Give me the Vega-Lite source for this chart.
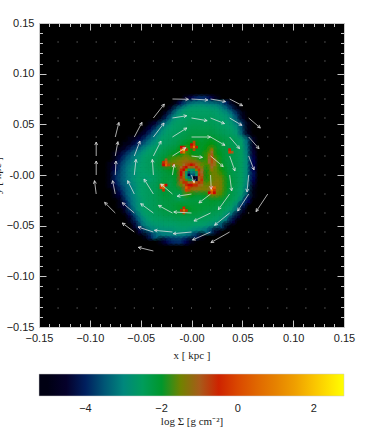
{"$schema":"https://vega.github.io/schema/vega-lite/v6.json","width":305,"height":304,"autosize":"none","padding":{"left":39,"top":23,"right":46,"bottom":113},"background":"white","view":{"fill":"#000000","stroke":"#c8c8c8"},
"config":{"legend":{"labelFont":"Liberation Sans","labelFontSize":11,"labelColor":"#222222","titleFont":"Liberation Serif","titleFontSize":11,"titleFontWeight":"normal","titleColor":"#222222"}},
"datasets":{
"dots":[
{"x":-0.13125,"y":0.13125},{"x":-0.1125,"y":0.13125},{"x":-0.09375,"y":0.13125},{"x":-0.075,"y":0.13125},{"x":-0.05625,"y":0.13125},{"x":-0.0375,"y":0.13125},{"x":-0.01875,"y":0.13125},{"x":0,"y":0.13125},{"x":0.01875,"y":0.13125},{"x":0.0375,"y":0.13125},{"x":0.05625,"y":0.13125},{"x":0.075,"y":0.13125},{"x":0.09375,"y":0.13125},{"x":0.1125,"y":0.13125},{"x":0.13125,"y":0.13125},
{"x":-0.13125,"y":0.1125},{"x":-0.1125,"y":0.1125},{"x":-0.09375,"y":0.1125},{"x":-0.075,"y":0.1125},{"x":-0.05625,"y":0.1125},{"x":-0.0375,"y":0.1125},{"x":-0.01875,"y":0.1125},{"x":0,"y":0.1125},{"x":0.01875,"y":0.1125},{"x":0.0375,"y":0.1125},{"x":0.05625,"y":0.1125},{"x":0.075,"y":0.1125},{"x":0.09375,"y":0.1125},{"x":0.1125,"y":0.1125},{"x":0.13125,"y":0.1125},
{"x":-0.13125,"y":0.09375},{"x":-0.1125,"y":0.09375},{"x":-0.09375,"y":0.09375},{"x":-0.075,"y":0.09375},{"x":-0.05625,"y":0.09375},{"x":-0.0375,"y":0.09375},{"x":-0.01875,"y":0.09375},{"x":0,"y":0.09375},{"x":0.01875,"y":0.09375},{"x":0.0375,"y":0.09375},{"x":0.05625,"y":0.09375},{"x":0.075,"y":0.09375},{"x":0.09375,"y":0.09375},{"x":0.1125,"y":0.09375},{"x":0.13125,"y":0.09375},
{"x":-0.13125,"y":0.075},{"x":-0.1125,"y":0.075},{"x":-0.09375,"y":0.075},{"x":-0.075,"y":0.075},{"x":-0.05625,"y":0.075},{"x":-0.0375,"y":0.075},{"x":0.05625,"y":0.075},{"x":0.075,"y":0.075},{"x":0.09375,"y":0.075},{"x":0.1125,"y":0.075},{"x":0.13125,"y":0.075},
{"x":-0.13125,"y":0.05625},{"x":-0.1125,"y":0.05625},{"x":-0.09375,"y":0.05625},{"x":-0.075,"y":0.05625},{"x":-0.05625,"y":0.05625},{"x":0.075,"y":0.05625},{"x":0.09375,"y":0.05625},{"x":0.1125,"y":0.05625},{"x":0.13125,"y":0.05625},
{"x":-0.13125,"y":0.0375},{"x":-0.1125,"y":0.0375},{"x":-0.09375,"y":0.0375},{"x":0.075,"y":0.0375},{"x":0.09375,"y":0.0375},{"x":0.1125,"y":0.0375},{"x":0.13125,"y":0.0375},
{"x":-0.13125,"y":0.01875},{"x":-0.1125,"y":0.01875},{"x":0.075,"y":0.01875},{"x":0.09375,"y":0.01875},{"x":0.1125,"y":0.01875},{"x":0.13125,"y":0.01875},
{"x":-0.13125,"y":0},{"x":-0.1125,"y":0},{"x":0.075,"y":0},{"x":0.09375,"y":0},{"x":0.1125,"y":0},{"x":0.13125,"y":0},
{"x":-0.13125,"y":-0.01875},{"x":-0.1125,"y":-0.01875},{"x":0.09375,"y":-0.01875},{"x":0.1125,"y":-0.01875},{"x":0.13125,"y":-0.01875},
{"x":-0.13125,"y":-0.0375},{"x":-0.1125,"y":-0.0375},{"x":-0.09375,"y":-0.0375},{"x":0.05625,"y":-0.0375},{"x":0.075,"y":-0.0375},{"x":0.09375,"y":-0.0375},{"x":0.1125,"y":-0.0375},{"x":0.13125,"y":-0.0375},
{"x":-0.13125,"y":-0.05625},{"x":-0.1125,"y":-0.05625},{"x":-0.09375,"y":-0.05625},{"x":-0.075,"y":-0.05625},{"x":0.05625,"y":-0.05625},{"x":0.075,"y":-0.05625},{"x":0.09375,"y":-0.05625},{"x":0.1125,"y":-0.05625},{"x":0.13125,"y":-0.05625},
{"x":-0.13125,"y":-0.075},{"x":-0.1125,"y":-0.075},{"x":-0.09375,"y":-0.075},{"x":-0.075,"y":-0.075},{"x":-0.05625,"y":-0.075},{"x":-0.01875,"y":-0.075},{"x":0,"y":-0.075},{"x":0.01875,"y":-0.075},{"x":0.0375,"y":-0.075},{"x":0.05625,"y":-0.075},{"x":0.075,"y":-0.075},{"x":0.09375,"y":-0.075},{"x":0.1125,"y":-0.075},{"x":0.13125,"y":-0.075},
{"x":-0.13125,"y":-0.09375},{"x":-0.1125,"y":-0.09375},{"x":-0.09375,"y":-0.09375},{"x":-0.075,"y":-0.09375},{"x":-0.05625,"y":-0.09375},{"x":-0.0375,"y":-0.09375},{"x":-0.01875,"y":-0.09375},{"x":0,"y":-0.09375},{"x":0.01875,"y":-0.09375},{"x":0.0375,"y":-0.09375},{"x":0.05625,"y":-0.09375},{"x":0.075,"y":-0.09375},{"x":0.09375,"y":-0.09375},{"x":0.1125,"y":-0.09375},{"x":0.13125,"y":-0.09375},
{"x":-0.13125,"y":-0.1125},{"x":-0.1125,"y":-0.1125},{"x":-0.09375,"y":-0.1125},{"x":-0.075,"y":-0.1125},{"x":-0.05625,"y":-0.1125},{"x":-0.0375,"y":-0.1125},{"x":-0.01875,"y":-0.1125},{"x":0,"y":-0.1125},{"x":0.01875,"y":-0.1125},{"x":0.0375,"y":-0.1125},{"x":0.05625,"y":-0.1125},{"x":0.075,"y":-0.1125},{"x":0.09375,"y":-0.1125},{"x":0.1125,"y":-0.1125},{"x":0.13125,"y":-0.1125},
{"x":-0.13125,"y":-0.13125},{"x":-0.1125,"y":-0.13125},{"x":-0.09375,"y":-0.13125},{"x":-0.075,"y":-0.13125},{"x":-0.05625,"y":-0.13125},{"x":-0.0375,"y":-0.13125},{"x":-0.01875,"y":-0.13125},{"x":0,"y":-0.13125},{"x":0.01875,"y":-0.13125},{"x":0.0375,"y":-0.13125},{"x":0.05625,"y":-0.13125},{"x":0.075,"y":-0.13125},{"x":0.09375,"y":-0.13125},{"x":0.1125,"y":-0.13125},{"x":0.13125,"y":-0.13125}
],
"arrows":[
{"x":-0.01875,"y":0.075,"x2":-0.003,"y2":0.0747,"a":91},{"x":0,"y":0.075,"x2":0.0161,"y2":0.074,"a":93},{"x":0.01875,"y":0.075,"x2":0.0335,"y2":0.0724,"a":100},{"x":0.0375,"y":0.075,"x2":0.0503,"y2":0.0684,"a":117},
{"x":-0.0375,"y":0.05625,"x2":-0.0267,"y2":0.07,"a":38},{"x":-0.01875,"y":0.05625,"x2":-0.0047,"y2":0.0585,"a":81},{"x":0,"y":0.05625,"x2":0.0154,"y2":0.0536,"a":100},{"x":0.01875,"y":0.05625,"x2":0.0325,"y2":0.0507,"a":112},{"x":0.0375,"y":0.05625,"x2":0.0496,"y2":0.049,"a":121},{"x":0.05625,"y":0.05625,"x2":0.0677,"y2":0.0464,"a":131},
{"x":-0.075,"y":0.0375,"x2":-0.0714,"y2":0.0519,"a":14},{"x":-0.05625,"y":0.0375,"x2":-0.0487,"y2":0.0519,"a":28},{"x":-0.0375,"y":0.0375,"x2":-0.027,"y2":0.0513,"a":37},{"x":-0.01875,"y":0.0375,"x2":-0.0046,"y2":0.0464,"a":58},{"x":0,"y":0.0375,"x2":0.0187,"y2":0.0375,"a":90},{"x":0.01875,"y":0.0375,"x2":0.0329,"y2":0.0293,"a":120},{"x":0.0375,"y":0.0375,"x2":0.0473,"y2":0.026,"a":139},{"x":0.05625,"y":0.0375,"x2":0.0664,"y2":0.026,"a":138},
{"x":-0.09375,"y":0.01875,"x2":-0.09375,"y2":0.0325,"a":0},{"x":-0.075,"y":0.01875,"x2":-0.0724,"y2":0.0329,"a":11},{"x":-0.05625,"y":0.01875,"x2":-0.0507,"y2":0.0335,"a":21},{"x":-0.0375,"y":0.01875,"x2":-0.03,"y2":0.0335,"a":27},{"x":-0.01875,"y":0.01875,"x2":-0.0056,"y2":0.027,"a":58},{"x":0,"y":0.01875,"x2":0.0108,"y2":0.0174,"a":97},{"x":0.01875,"y":0.01875,"x2":0.0312,"y2":0.0083,"a":130},{"x":0.0375,"y":0.01875,"x2":0.0427,"y2":0.004,"a":160},{"x":0.05625,"y":0.01875,"x2":0.0615,"y2":0.005,"a":159},
{"x":-0.09375,"y":0,"x2":-0.09375,"y2":0.0138,"a":0},{"x":-0.075,"y":0,"x2":-0.0743,"y2":0.0138,"a":3},{"x":-0.05625,"y":0,"x2":-0.0546,"y2":0.0154,"a":6},{"x":-0.0375,"y":0,"x2":-0.0385,"y2":0.0154,"a":-4},{"x":-0.01875,"y":0,"x2":-0.0171,"y2":0.0105,"a":9},{"x":0,"y":0,"x2":0.0025,"y2":-0.0075,"a":172},{"x":0.01875,"y":0,"x2":0.0194,"y2":-0.0141,"a":177},{"x":0.0375,"y":0,"x2":0.0395,"y2":-0.0157,"a":173},{"x":0.05625,"y":0,"x2":0.0546,"y2":-0.0167,"a":186},
{"x":-0.09375,"y":-0.01875,"x2":-0.0954,"y2":-0.0056,"a":-7},{"x":-0.075,"y":-0.01875,"x2":-0.0776,"y2":-0.0056,"a":-11},{"x":-0.05625,"y":-0.01875,"x2":-0.0628,"y2":-0.0056,"a":-27},{"x":-0.0375,"y":-0.01875,"x2":-0.0467,"y2":-0.004,"a":-32},{"x":-0.01875,"y":-0.01875,"x2":-0.0302,"y2":-0.0089,"a":-49},{"x":0,"y":-0.01875,"x2":-0.0141,"y2":-0.021,"a":-99},{"x":0.01875,"y":-0.01875,"x2":0.0073,"y2":-0.0276,"a":-128},{"x":0.0375,"y":-0.01875,"x2":0.0264,"y2":-0.0342,"a":-144},{"x":0.05625,"y":-0.01875,"x2":0.0454,"y2":-0.0355,"a":-147},{"x":0.075,"y":-0.01875,"x2":0.0635,"y2":-0.0361,"a":-147},
{"x":-0.075,"y":-0.0375,"x2":-0.0855,"y2":-0.027,"a":-45},{"x":-0.05625,"y":-0.0375,"x2":-0.0681,"y2":-0.0273,"a":-49},{"x":-0.0375,"y":-0.0375,"x2":-0.05,"y2":-0.0283,"a":-54},{"x":-0.01875,"y":-0.0375,"x2":-0.0325,"y2":-0.03,"a":-61},{"x":0,"y":-0.0375,"x2":-0.0174,"y2":-0.0365,"a":-87},{"x":0.01875,"y":-0.0375,"x2":0.0024,"y2":-0.0454,"a":-116},{"x":0.0375,"y":-0.0375,"x2":0.0227,"y2":-0.0496,"a":-129},
{"x":-0.05625,"y":-0.05625,"x2":-0.0681,"y2":-0.0474,"a":-53},{"x":-0.0375,"y":-0.05625,"x2":-0.0526,"y2":-0.0513,"a":-72},{"x":-0.01875,"y":-0.05625,"x2":-0.0365,"y2":-0.0546,"a":-85},{"x":0,"y":-0.05625,"x2":-0.018,"y2":-0.0579,"a":-95},{"x":0.01875,"y":-0.05625,"x2":0.001,"y2":-0.0641,"a":-114},{"x":0.0375,"y":-0.05625,"x2":0.0191,"y2":-0.0667,"a":-120},
{"x":-0.0375,"y":-0.075,"x2":-0.0523,"y2":-0.0714,"a":-76}
],
"fine":[
{"x":-0.01,"y":0.01,"v":-1.4},{"x":-0.0075,"y":0.01,"v":-1.1},{"x":-0.005,"y":0.01,"v":-0.9},{"x":-0.0025,"y":0.01,"v":-0.8},{"x":0,"y":0.01,"v":-0.7},{"x":0.0025,"y":0.01,"v":-0.8},{"x":0.005,"y":0.01,"v":-1},{"x":0.0075,"y":0.01,"v":-1.3},{"x":0.01,"y":0.01,"v":-1.6},
{"x":-0.01,"y":0.0075,"v":-1.1},{"x":-0.0075,"y":0.0075,"v":-0.8},{"x":-0.005,"y":0.0075,"v":-0.7},{"x":-0.0025,"y":0.0075,"v":-1},{"x":0,"y":0.0075,"v":-1.3},{"x":0.0025,"y":0.0075,"v":-1},{"x":0.005,"y":0.0075,"v":-0.8},{"x":0.0075,"y":0.0075,"v":-1},{"x":0.01,"y":0.0075,"v":-1.4},
{"x":-0.01,"y":0.005,"v":-0.8},{"x":-0.0075,"y":0.005,"v":-0.7},{"x":-0.005,"y":0.005,"v":-1.5},{"x":-0.0025,"y":0.005,"v":-2.6},{"x":0,"y":0.005,"v":-2.8},{"x":0.0025,"y":0.005,"v":-2.4},{"x":0.005,"y":0.005,"v":-1.3},{"x":0.0075,"y":0.005,"v":-0.8},{"x":0.01,"y":0.005,"v":-1.2},
{"x":-0.01,"y":0.0025,"v":-0.7},{"x":-0.0075,"y":0.0025,"v":-1},{"x":-0.005,"y":0.0025,"v":-2.6},{"x":-0.0025,"y":0.0025,"v":-3.5},{"x":0,"y":0.0025,"v":-3},{"x":0.0025,"y":0.0025,"v":-3.2},{"x":0.005,"y":0.0025,"v":-2.4},{"x":0.0075,"y":0.0025,"v":-0.9},{"x":0.01,"y":0.0025,"v":-1.1},
{"x":-0.01,"y":0,"v":-0.7},{"x":-0.0075,"y":0,"v":-1.2},{"x":-0.005,"y":0,"v":-2.8},{"x":-0.0025,"y":0,"v":-4.2},{"x":0,"y":0,"v":-3.4},{"x":0.0025,"y":0,"v":-3.5},{"x":0.005,"y":0,"v":-2.8},{"x":0.0075,"y":0,"v":-0.8},{"x":0.01,"y":0,"v":-1},
{"x":-0.01,"y":-0.0025,"v":-0.8},{"x":-0.0075,"y":-0.0025,"v":-1.3},{"x":-0.005,"y":-0.0025,"v":-2.7},{"x":-0.0025,"y":-0.0025,"v":-3.2},{"x":0,"y":-0.0025,"v":-3.6},{"x":0.0025,"y":-0.0025,"v":-4.8},{"x":0.005,"y":-0.0025,"v":-4.4},{"x":0.0075,"y":-0.0025,"v":-1},{"x":0.01,"y":-0.0025,"v":-0.9},
{"x":-0.01,"y":-0.005,"v":-1},{"x":-0.0075,"y":-0.005,"v":-0.9},{"x":-0.005,"y":-0.005,"v":-1.6},{"x":-0.0025,"y":-0.005,"v":-2.4},{"x":0,"y":-0.005,"v":-2.6},{"x":0.0025,"y":-0.005,"v":-4.9},{"x":0.005,"y":-0.005,"v":-4.4},{"x":0.0075,"y":-0.005,"v":-1.2},{"x":0.01,"y":-0.005,"v":-0.8},
{"x":-0.01,"y":-0.0075,"v":-1.3},{"x":-0.0075,"y":-0.0075,"v":-0.8},{"x":-0.005,"y":-0.0075,"v":-0.8},{"x":-0.0025,"y":-0.0075,"v":-1.2},{"x":0,"y":-0.0075,"v":-1},{"x":0.0025,"y":-0.0075,"v":0.8},{"x":0.005,"y":-0.0075,"v":-1},{"x":0.0075,"y":-0.0075,"v":-0.8},{"x":0.01,"y":-0.0075,"v":-0.9},
{"x":-0.01,"y":-0.01,"v":-1.6},{"x":-0.0075,"y":-0.01,"v":-1.2},{"x":-0.005,"y":-0.01,"v":-0.8},{"x":-0.0025,"y":-0.01,"v":-0.7},{"x":0,"y":-0.01,"v":-0.7},{"x":0.0025,"y":-0.01,"v":-0.8},{"x":0.005,"y":-0.01,"v":-0.8},{"x":0.0075,"y":-0.01,"v":-1},{"x":0.01,"y":-0.01,"v":-1.2},
{"x":-0.01,"y":0.0225,"v":-0.2},{"x":-0.0075,"y":0.0225,"v":0.6},{"x":-0.01,"y":0.025,"v":0.5},{"x":-0.0075,"y":0.025,"v":1.6},{"x":-0.005,"y":0.025,"v":-0.4},{"x":-0.0075,"y":0.0275,"v":-0.6},{"x":-0.01,"y":0.0275,"v":-0.7},
{"x":0.0025,"y":0.0325,"v":-0.9},{"x":0.0025,"y":0.03,"v":-0.2},{"x":0,"y":0.03,"v":-0.7},{"x":0.0025,"y":0.0275,"v":0.9},{"x":0.005,"y":0.0275,"v":-0.6},{"x":0,"y":0.0275,"v":-0.5},{"x":0.0025,"y":0.025,"v":-0.9},
{"x":-0.025,"y":0.0125,"v":0.2},{"x":-0.0275,"y":0.0125,"v":-0.8},{"x":-0.025,"y":0.01,"v":0.4},{"x":-0.0275,"y":0.01,"v":-0.7},{"x":-0.0225,"y":0.01,"v":-0.9},{"x":-0.025,"y":0.015,"v":-1},
{"x":-0.03,"y":-0.01,"v":0.3},{"x":-0.0275,"y":-0.01,"v":0.9},{"x":-0.03,"y":-0.0125,"v":-0.2},{"x":-0.0275,"y":-0.0125,"v":0.6},{"x":-0.0275,"y":-0.015,"v":-0.8},{"x":-0.025,"y":-0.01,"v":-0.7},
{"x":-0.0075,"y":-0.0325,"v":-0.5},{"x":-0.0075,"y":-0.035,"v":0.5},{"x":-0.01,"y":-0.035,"v":-0.8},{"x":-0.005,"y":-0.035,"v":-0.8},{"x":-0.0075,"y":-0.0375,"v":-0.9},
{"x":0.0375,"y":0.025,"v":-0.5},{"x":0.0375,"y":0.0225,"v":-0.2},{"x":0.04,"y":0.0225,"v":-1},
{"x":0.02,"y":-0.0125,"v":-0.3},{"x":0.0225,"y":-0.0125,"v":0.4},{"x":0.02,"y":-0.015,"v":0.8},{"x":0.0225,"y":-0.015,"v":-0.3},{"x":0.02,"y":-0.0175,"v":0.1},{"x":0.0175,"y":-0.0175,"v":-0.7},{"x":0.0225,"y":-0.0175,"v":-0.7},
{"x":-0.005,"y":-0.0125,"v":0.3},{"x":-0.0025,"y":-0.0125,"v":-0.4},{"x":-0.005,"y":-0.015,"v":-0.2},{"x":-0.0025,"y":-0.015,"v":-0.9},{"x":-0.0175,"y":0.01,"v":-0.9},
{"x":0.02,"y":0.025,"v":-1.3},{"x":0.02,"y":0.0225,"v":-1.1},{"x":0.02,"y":0.02,"v":-1},{"x":0.02,"y":0.0175,"v":-0.9},{"x":0.02,"y":0.015,"v":-0.9},{"x":0.02,"y":0.0125,"v":-0.9},{"x":0.02,"y":0.01,"v":-1},{"x":0.02,"y":0.0075,"v":-1.1},{"x":0.02,"y":0.005,"v":-1.3},
{"x":0.0175,"y":0.02,"v":-1.3},{"x":0.0175,"y":0.0175,"v":-1.2},{"x":0.0175,"y":0.015,"v":-1.1},{"x":0.0175,"y":0.0125,"v":-1.1},{"x":0.0225,"y":0.015,"v":-1.2},{"x":0.0225,"y":0.0125,"v":-1.2},{"x":0.0225,"y":0.01,"v":-1.2}
],
"coarse":[
{"x":-0.005,"y":0.075,"v":-4.6},{"x":0,"y":0.075,"v":-4.3},{"x":0.005,"y":0.075,"v":-4},{"x":0.01,"y":0.075,"v":-3.9},{"x":0.015,"y":0.075,"v":-4},{"x":0.02,"y":0.075,"v":-4.3},{"x":0.025,"y":0.075,"v":-4.7},
{"x":-0.015,"y":0.07,"v":-4.7},{"x":-0.01,"y":0.07,"v":-4.1},{"x":-0.005,"y":0.07,"v":-3.4},{"x":0,"y":0.07,"v":-3.1},{"x":0.005,"y":0.07,"v":-3},{"x":0.01,"y":0.07,"v":-3},{"x":0.015,"y":0.07,"v":-3.1},{"x":0.02,"y":0.07,"v":-3.1},{"x":0.025,"y":0.07,"v":-3.2},{"x":0.03,"y":0.07,"v":-3.5},{"x":0.035,"y":0.07,"v":-4},{"x":0.04,"y":0.07,"v":-4.7},
{"x":-0.02,"y":0.065,"v":-4.6},{"x":-0.015,"y":0.065,"v":-3.6},{"x":-0.01,"y":0.065,"v":-3},{"x":-0.005,"y":0.065,"v":-2.8},{"x":0,"y":0.065,"v":-2.7},{"x":0.005,"y":0.065,"v":-2.7},{"x":0.01,"y":0.065,"v":-2.7},{"x":0.015,"y":0.065,"v":-2.7},{"x":0.02,"y":0.065,"v":-2.8},{"x":0.025,"y":0.065,"v":-2.8},{"x":0.03,"y":0.065,"v":-3},{"x":0.035,"y":0.065,"v":-3.3},{"x":0.04,"y":0.065,"v":-3.9},{"x":0.045,"y":0.065,"v":-4.7},
{"x":-0.025,"y":0.06,"v":-4.6},{"x":-0.02,"y":0.06,"v":-3.7},{"x":-0.015,"y":0.06,"v":-3},{"x":-0.01,"y":0.06,"v":-2.8},{"x":-0.005,"y":0.06,"v":-2.6},{"x":0,"y":0.06,"v":-2.6},{"x":0.005,"y":0.06,"v":-2.6},{"x":0.01,"y":0.06,"v":-2.6},{"x":0.015,"y":0.06,"v":-2.6},{"x":0.02,"y":0.06,"v":-2.6},{"x":0.025,"y":0.06,"v":-2.7},{"x":0.03,"y":0.06,"v":-2.8},{"x":0.035,"y":0.06,"v":-2.9},{"x":0.04,"y":0.06,"v":-3.2},{"x":0.045,"y":0.06,"v":-3.9},{"x":0.05,"y":0.06,"v":-4.8},
{"x":-0.03,"y":0.055,"v":-4.7},{"x":-0.025,"y":0.055,"v":-3.9},{"x":-0.02,"y":0.055,"v":-3.1},{"x":-0.015,"y":0.055,"v":-2.8},{"x":-0.01,"y":0.055,"v":-2.7},{"x":-0.005,"y":0.055,"v":-2.6},{"x":0,"y":0.055,"v":-2.5},{"x":0.005,"y":0.055,"v":-2.5},{"x":0.01,"y":0.055,"v":-2.5},{"x":0.015,"y":0.055,"v":-2.5},{"x":0.02,"y":0.055,"v":-2.5},{"x":0.025,"y":0.055,"v":-2.6},{"x":0.03,"y":0.055,"v":-2.7},{"x":0.035,"y":0.055,"v":-2.8},{"x":0.04,"y":0.055,"v":-3},{"x":0.045,"y":0.055,"v":-3.6},{"x":0.05,"y":0.055,"v":-4.6},
{"x":-0.04,"y":0.05,"v":-4.8},{"x":-0.035,"y":0.05,"v":-4.4},{"x":-0.03,"y":0.05,"v":-3.6},{"x":-0.025,"y":0.05,"v":-3.1},{"x":-0.02,"y":0.05,"v":-2.8},{"x":-0.015,"y":0.05,"v":-2.6},{"x":-0.01,"y":0.05,"v":-2.6},{"x":-0.005,"y":0.05,"v":-2.5},{"x":0,"y":0.05,"v":-2.4},{"x":0.005,"y":0.05,"v":-2.4},{"x":0.01,"y":0.05,"v":-2.4},{"x":0.015,"y":0.05,"v":-2.4},{"x":0.02,"y":0.05,"v":-2.4},{"x":0.025,"y":0.05,"v":-2.5},{"x":0.03,"y":0.05,"v":-2.6},{"x":0.035,"y":0.05,"v":-2.7},{"x":0.04,"y":0.05,"v":-2.8},{"x":0.045,"y":0.05,"v":-3.1},{"x":0.05,"y":0.05,"v":-3.8},{"x":0.055,"y":0.05,"v":-4.8},
{"x":-0.045,"y":0.045,"v":-4.8},{"x":-0.04,"y":0.045,"v":-4.2},{"x":-0.035,"y":0.045,"v":-3.6},{"x":-0.03,"y":0.045,"v":-3.1},{"x":-0.025,"y":0.045,"v":-2.8},{"x":-0.02,"y":0.045,"v":-2.7},{"x":-0.015,"y":0.045,"v":-2.6},{"x":-0.01,"y":0.045,"v":-2.5},{"x":-0.005,"y":0.045,"v":-2.4},{"x":0,"y":0.045,"v":-2.3},{"x":0.005,"y":0.045,"v":-2.3},{"x":0.01,"y":0.045,"v":-2.3},{"x":0.015,"y":0.045,"v":-2.3},{"x":0.02,"y":0.045,"v":-2.3},{"x":0.025,"y":0.045,"v":-2.4},{"x":0.03,"y":0.045,"v":-2.5},{"x":0.035,"y":0.045,"v":-2.6},{"x":0.04,"y":0.045,"v":-2.7},{"x":0.045,"y":0.045,"v":-2.9},{"x":0.05,"y":0.045,"v":-3.6},{"x":0.055,"y":0.045,"v":-4.7},
{"x":-0.05,"y":0.04,"v":-4.8},{"x":-0.045,"y":0.04,"v":-4.3},{"x":-0.04,"y":0.04,"v":-3.7},{"x":-0.035,"y":0.04,"v":-3.2},{"x":-0.03,"y":0.04,"v":-2.9},{"x":-0.025,"y":0.04,"v":-2.7},{"x":-0.02,"y":0.04,"v":-2.6},{"x":-0.015,"y":0.04,"v":-2.5},{"x":-0.01,"y":0.04,"v":-2.4},{"x":-0.005,"y":0.04,"v":-2.3},{"x":0,"y":0.04,"v":-2.2},{"x":0.005,"y":0.04,"v":-2.2},{"x":0.01,"y":0.04,"v":-2.2},{"x":0.015,"y":0.04,"v":-2.2},{"x":0.02,"y":0.04,"v":-2.2},{"x":0.025,"y":0.04,"v":-2.3},{"x":0.03,"y":0.04,"v":-2.4},{"x":0.035,"y":0.04,"v":-2.5},{"x":0.04,"y":0.04,"v":-2.6},{"x":0.045,"y":0.04,"v":-2.8},{"x":0.05,"y":0.04,"v":-3.5},{"x":0.055,"y":0.04,"v":-4.6},
{"x":-0.06,"y":0.035,"v":-4.9},{"x":-0.055,"y":0.035,"v":-4.6},{"x":-0.05,"y":0.035,"v":-4.2},{"x":-0.045,"y":0.035,"v":-3.7},{"x":-0.04,"y":0.035,"v":-3.3},{"x":-0.035,"y":0.035,"v":-3},{"x":-0.03,"y":0.035,"v":-2.7},{"x":-0.025,"y":0.035,"v":-2.6},{"x":-0.02,"y":0.035,"v":-2.5},{"x":-0.015,"y":0.035,"v":-2.4},{"x":-0.01,"y":0.035,"v":-2.3},{"x":-0.005,"y":0.035,"v":-2.2},{"x":0,"y":0.035,"v":-2.1},{"x":0.005,"y":0.035,"v":-2.1},{"x":0.01,"y":0.035,"v":-2.1},{"x":0.015,"y":0.035,"v":-2},{"x":0.02,"y":0.035,"v":-2},{"x":0.025,"y":0.035,"v":-2.1},{"x":0.03,"y":0.035,"v":-2.2},{"x":0.035,"y":0.035,"v":-2.3},{"x":0.04,"y":0.035,"v":-2.4},{"x":0.045,"y":0.035,"v":-2.5},{"x":0.05,"y":0.035,"v":-2.8},{"x":0.055,"y":0.035,"v":-3.4},{"x":0.06,"y":0.035,"v":-4.6},
{"x":-0.065,"y":0.03,"v":-4.9},{"x":-0.06,"y":0.03,"v":-4.6},{"x":-0.055,"y":0.03,"v":-4.1},{"x":-0.05,"y":0.03,"v":-3.7},{"x":-0.045,"y":0.03,"v":-3.3},{"x":-0.04,"y":0.03,"v":-3},{"x":-0.035,"y":0.03,"v":-2.8},{"x":-0.03,"y":0.03,"v":-2.6},{"x":-0.025,"y":0.03,"v":-2.5},{"x":-0.02,"y":0.03,"v":-2.4},{"x":-0.015,"y":0.03,"v":-2.3},{"x":-0.01,"y":0.03,"v":-2.1},{"x":-0.005,"y":0.03,"v":-1.9},{"x":0,"y":0.03,"v":-1.8},{"x":0.005,"y":0.03,"v":-1.8},{"x":0.01,"y":0.03,"v":-2},{"x":0.015,"y":0.03,"v":-1.9},{"x":0.02,"y":0.03,"v":-1.8},{"x":0.025,"y":0.03,"v":-2},{"x":0.03,"y":0.03,"v":-2.2},{"x":0.035,"y":0.03,"v":-2.3},{"x":0.04,"y":0.03,"v":-2.4},{"x":0.045,"y":0.03,"v":-2.5},{"x":0.05,"y":0.03,"v":-2.7},{"x":0.055,"y":0.03,"v":-3.3},{"x":0.06,"y":0.03,"v":-4.6},
{"x":-0.07,"y":0.025,"v":-4.9},{"x":-0.065,"y":0.025,"v":-4.5},{"x":-0.06,"y":0.025,"v":-4},{"x":-0.055,"y":0.025,"v":-3.6},{"x":-0.05,"y":0.025,"v":-3.2},{"x":-0.045,"y":0.025,"v":-2.9},{"x":-0.04,"y":0.025,"v":-2.7},{"x":-0.035,"y":0.025,"v":-2.6},{"x":-0.03,"y":0.025,"v":-2.5},{"x":-0.025,"y":0.025,"v":-2.3},{"x":-0.02,"y":0.025,"v":-2.2},{"x":-0.015,"y":0.025,"v":-2.1},{"x":-0.01,"y":0.025,"v":-1.8},{"x":-0.005,"y":0.025,"v":-1.6},{"x":0,"y":0.025,"v":-1.8},{"x":0.005,"y":0.025,"v":-1.9},{"x":0.01,"y":0.025,"v":-2},{"x":0.015,"y":0.025,"v":-1.8},{"x":0.02,"y":0.025,"v":-1.5},{"x":0.025,"y":0.025,"v":-1.9},{"x":0.03,"y":0.025,"v":-2.1},{"x":0.035,"y":0.025,"v":-2.2},{"x":0.04,"y":0.025,"v":-2.3},{"x":0.045,"y":0.025,"v":-2.4},{"x":0.05,"y":0.025,"v":-2.6},{"x":0.055,"y":0.025,"v":-3.2},{"x":0.06,"y":0.025,"v":-4.5},
{"x":-0.075,"y":0.02,"v":-4.9},{"x":-0.07,"y":0.02,"v":-4.4},{"x":-0.065,"y":0.02,"v":-3.9},{"x":-0.06,"y":0.02,"v":-3.5},{"x":-0.055,"y":0.02,"v":-3.1},{"x":-0.05,"y":0.02,"v":-2.9},{"x":-0.045,"y":0.02,"v":-2.7},{"x":-0.04,"y":0.02,"v":-2.6},{"x":-0.035,"y":0.02,"v":-2.5},{"x":-0.03,"y":0.02,"v":-2.3},{"x":-0.025,"y":0.02,"v":-2.2},{"x":-0.02,"y":0.02,"v":-2},{"x":-0.015,"y":0.02,"v":-1.9},{"x":-0.01,"y":0.02,"v":-1.8},{"x":-0.005,"y":0.02,"v":-1.6},{"x":0,"y":0.02,"v":-1.8},{"x":0.005,"y":0.02,"v":-2},{"x":0.01,"y":0.02,"v":-1.9},{"x":0.015,"y":0.02,"v":-1.7},{"x":0.02,"y":0.02,"v":-1.4},{"x":0.025,"y":0.02,"v":-1.8},{"x":0.03,"y":0.02,"v":-2},{"x":0.035,"y":0.02,"v":-2.2},{"x":0.04,"y":0.02,"v":-2.3},{"x":0.045,"y":0.02,"v":-2.4},{"x":0.05,"y":0.02,"v":-2.6},{"x":0.055,"y":0.02,"v":-3.1},{"x":0.06,"y":0.02,"v":-4.4},
{"x":-0.075,"y":0.015,"v":-4.7},{"x":-0.07,"y":0.015,"v":-4.1},{"x":-0.065,"y":0.015,"v":-3.6},{"x":-0.06,"y":0.015,"v":-3.3},{"x":-0.055,"y":0.015,"v":-3},{"x":-0.05,"y":0.015,"v":-2.8},{"x":-0.045,"y":0.015,"v":-2.6},{"x":-0.04,"y":0.015,"v":-2.5},{"x":-0.035,"y":0.015,"v":-2.4},{"x":-0.03,"y":0.015,"v":-2.2},{"x":-0.025,"y":0.015,"v":-2},{"x":-0.02,"y":0.015,"v":-1.7},{"x":-0.015,"y":0.015,"v":-1.6},{"x":-0.01,"y":0.015,"v":-1.4},{"x":-0.005,"y":0.015,"v":-1.3},{"x":0,"y":0.015,"v":-1.5},{"x":0.005,"y":0.015,"v":-1.6},{"x":0.01,"y":0.015,"v":-1.9},{"x":0.015,"y":0.015,"v":-1.7},{"x":0.02,"y":0.015,"v":-1.3},{"x":0.025,"y":0.015,"v":-1.7},{"x":0.03,"y":0.015,"v":-2},{"x":0.035,"y":0.015,"v":-2.2},{"x":0.04,"y":0.015,"v":-2.3},{"x":0.045,"y":0.015,"v":-2.4},{"x":0.05,"y":0.015,"v":-2.6},{"x":0.055,"y":0.015,"v":-3},{"x":0.06,"y":0.015,"v":-4.2},
{"x":-0.08,"y":0.01,"v":-4.9},{"x":-0.075,"y":0.01,"v":-4.4},{"x":-0.07,"y":0.01,"v":-3.8},{"x":-0.065,"y":0.01,"v":-3.4},{"x":-0.06,"y":0.01,"v":-3.1},{"x":-0.055,"y":0.01,"v":-2.9},{"x":-0.05,"y":0.01,"v":-2.7},{"x":-0.045,"y":0.01,"v":-2.6},{"x":-0.04,"y":0.01,"v":-2.5},{"x":-0.035,"y":0.01,"v":-2.3},{"x":-0.03,"y":0.01,"v":-2.1},{"x":-0.025,"y":0.01,"v":-0.9},{"x":-0.02,"y":0.01,"v":-1.5},{"x":-0.015,"y":0.01,"v":-1.4},{"x":-0.01,"y":0.01,"v":-1.3},{"x":-0.005,"y":0.01,"v":-1},{"x":0,"y":0.01,"v":-0.9},{"x":0.005,"y":0.01,"v":-1},{"x":0.01,"y":0.01,"v":-1.4},{"x":0.015,"y":0.01,"v":-1.7},{"x":0.02,"y":0.01,"v":-1.3},{"x":0.025,"y":0.01,"v":-1.6},{"x":0.03,"y":0.01,"v":-1.9},{"x":0.035,"y":0.01,"v":-2.2},{"x":0.04,"y":0.01,"v":-2.3},{"x":0.045,"y":0.01,"v":-2.4},{"x":0.05,"y":0.01,"v":-2.6},{"x":0.055,"y":0.01,"v":-3},{"x":0.06,"y":0.01,"v":-4.2},
{"x":-0.08,"y":0.005,"v":-4.8},{"x":-0.075,"y":0.005,"v":-4.2},{"x":-0.07,"y":0.005,"v":-3.7},{"x":-0.065,"y":0.005,"v":-3.3},{"x":-0.06,"y":0.005,"v":-3},{"x":-0.055,"y":0.005,"v":-2.8},{"x":-0.05,"y":0.005,"v":-2.7},{"x":-0.045,"y":0.005,"v":-2.6},{"x":-0.04,"y":0.005,"v":-2.5},{"x":-0.035,"y":0.005,"v":-2.4},{"x":-0.03,"y":0.005,"v":-2.2},{"x":-0.025,"y":0.005,"v":-2},{"x":-0.02,"y":0.005,"v":-1.9},{"x":-0.015,"y":0.005,"v":-1.8},{"x":-0.01,"y":0.005,"v":-1},{"x":-0.005,"y":0.005,"v":-0.8},{"x":0,"y":0.005,"v":-1.5},{"x":0.005,"y":0.005,"v":-0.8},{"x":0.01,"y":0.005,"v":-1.1},{"x":0.015,"y":0.005,"v":-1.8},{"x":0.02,"y":0.005,"v":-1.4},{"x":0.025,"y":0.005,"v":-1.6},{"x":0.03,"y":0.005,"v":-1.8},{"x":0.035,"y":0.005,"v":-2.1},{"x":0.04,"y":0.005,"v":-2.3},{"x":0.045,"y":0.005,"v":-2.4},{"x":0.05,"y":0.005,"v":-2.6},{"x":0.055,"y":0.005,"v":-3},{"x":0.06,"y":0.005,"v":-4.2},
{"x":-0.08,"y":0,"v":-4.7},{"x":-0.075,"y":0,"v":-4},{"x":-0.07,"y":0,"v":-3.6},{"x":-0.065,"y":0,"v":-3.3},{"x":-0.06,"y":0,"v":-3},{"x":-0.055,"y":0,"v":-2.9},{"x":-0.05,"y":0,"v":-2.7},{"x":-0.045,"y":0,"v":-2.7},{"x":-0.04,"y":0,"v":-2.6},{"x":-0.035,"y":0,"v":-2.5},{"x":-0.03,"y":0,"v":-2.3},{"x":-0.025,"y":0,"v":-2.2},{"x":-0.02,"y":0,"v":-2.1},{"x":-0.015,"y":0,"v":-1.9},{"x":-0.01,"y":0,"v":-0.9},{"x":-0.005,"y":0,"v":-1.2},{"x":0,"y":0,"v":-3.8},{"x":0.005,"y":0,"v":-1.2},{"x":0.01,"y":0,"v":-0.9},{"x":0.015,"y":0,"v":-1.8},{"x":0.02,"y":0,"v":-1.5},{"x":0.025,"y":0,"v":-1.5},{"x":0.03,"y":0,"v":-1.7},{"x":0.035,"y":0,"v":-2},{"x":0.04,"y":0,"v":-2.3},{"x":0.045,"y":0,"v":-2.4},{"x":0.05,"y":0,"v":-2.6},{"x":0.055,"y":0,"v":-3},{"x":0.06,"y":0,"v":-4.1},
{"x":-0.08,"y":-0.005,"v":-4.7},{"x":-0.075,"y":-0.005,"v":-4},{"x":-0.07,"y":-0.005,"v":-3.6},{"x":-0.065,"y":-0.005,"v":-3.3},{"x":-0.06,"y":-0.005,"v":-3},{"x":-0.055,"y":-0.005,"v":-2.8},{"x":-0.05,"y":-0.005,"v":-2.7},{"x":-0.045,"y":-0.005,"v":-2.8},{"x":-0.04,"y":-0.005,"v":-2.7},{"x":-0.035,"y":-0.005,"v":-2.5},{"x":-0.03,"y":-0.005,"v":-2.3},{"x":-0.025,"y":-0.005,"v":-2.1},{"x":-0.02,"y":-0.005,"v":-2.2},{"x":-0.015,"y":-0.005,"v":-2},{"x":-0.01,"y":-0.005,"v":-0.9},{"x":-0.005,"y":-0.005,"v":-1},{"x":0,"y":-0.005,"v":-3.5},{"x":0.005,"y":-0.005,"v":-1},{"x":0.01,"y":-0.005,"v":-1},{"x":0.015,"y":-0.005,"v":-1.8},{"x":0.02,"y":-0.005,"v":-1.6},{"x":0.025,"y":-0.005,"v":-1.4},{"x":0.03,"y":-0.005,"v":-1.5},{"x":0.035,"y":-0.005,"v":-1.9},{"x":0.04,"y":-0.005,"v":-2.2},{"x":0.045,"y":-0.005,"v":-2.4},{"x":0.05,"y":-0.005,"v":-2.6},{"x":0.055,"y":-0.005,"v":-3},{"x":0.06,"y":-0.005,"v":-4.2},
{"x":-0.08,"y":-0.01,"v":-4.9},{"x":-0.075,"y":-0.01,"v":-4.2},{"x":-0.07,"y":-0.01,"v":-3.7},{"x":-0.065,"y":-0.01,"v":-3.4},{"x":-0.06,"y":-0.01,"v":-3.1},{"x":-0.055,"y":-0.01,"v":-2.9},{"x":-0.05,"y":-0.01,"v":-2.7},{"x":-0.045,"y":-0.01,"v":-2.6},{"x":-0.04,"y":-0.01,"v":-2.5},{"x":-0.035,"y":-0.01,"v":-2.4},{"x":-0.03,"y":-0.01,"v":-2.2},{"x":-0.025,"y":-0.01,"v":-2.2},{"x":-0.02,"y":-0.01,"v":-2.3},{"x":-0.015,"y":-0.01,"v":-2},{"x":-0.01,"y":-0.01,"v":-1.2},{"x":-0.005,"y":-0.01,"v":-0.8},{"x":0,"y":-0.01,"v":-0.8},{"x":0.005,"y":-0.01,"v":-0.9},{"x":0.01,"y":-0.01,"v":-1.3},{"x":0.015,"y":-0.01,"v":-1.6},{"x":0.02,"y":-0.01,"v":-1.4},{"x":0.025,"y":-0.01,"v":-1.3},{"x":0.03,"y":-0.01,"v":-1.5},{"x":0.035,"y":-0.01,"v":-1.9},{"x":0.04,"y":-0.01,"v":-2.2},{"x":0.045,"y":-0.01,"v":-2.4},{"x":0.05,"y":-0.01,"v":-2.6},{"x":0.055,"y":-0.01,"v":-3.1},{"x":0.06,"y":-0.01,"v":-4.5},
{"x":-0.075,"y":-0.015,"v":-4.6},{"x":-0.07,"y":-0.015,"v":-4},{"x":-0.065,"y":-0.015,"v":-3.5},{"x":-0.06,"y":-0.015,"v":-3.2},{"x":-0.055,"y":-0.015,"v":-2.9},{"x":-0.05,"y":-0.015,"v":-2.7},{"x":-0.045,"y":-0.015,"v":-2.6},{"x":-0.04,"y":-0.015,"v":-2.5},{"x":-0.035,"y":-0.015,"v":-2.4},{"x":-0.03,"y":-0.015,"v":-2.2},{"x":-0.025,"y":-0.015,"v":-2.1},{"x":-0.02,"y":-0.015,"v":-2.2},{"x":-0.015,"y":-0.015,"v":-2.2},{"x":-0.01,"y":-0.015,"v":-2},{"x":-0.005,"y":-0.015,"v":-1.2},{"x":0,"y":-0.015,"v":-1.3},{"x":0.005,"y":-0.015,"v":-1.2},{"x":0.01,"y":-0.015,"v":-1.4},{"x":0.015,"y":-0.015,"v":-1.4},{"x":0.02,"y":-0.015,"v":-1.1},{"x":0.025,"y":-0.015,"v":-1.3},{"x":0.03,"y":-0.015,"v":-1.5},{"x":0.035,"y":-0.015,"v":-1.9},{"x":0.04,"y":-0.015,"v":-2.3},{"x":0.045,"y":-0.015,"v":-2.5},{"x":0.05,"y":-0.015,"v":-2.7},{"x":0.055,"y":-0.015,"v":-3.3},{"x":0.06,"y":-0.015,"v":-4.7},
{"x":-0.075,"y":-0.02,"v":-4.8},{"x":-0.07,"y":-0.02,"v":-4.2},{"x":-0.065,"y":-0.02,"v":-3.6},{"x":-0.06,"y":-0.02,"v":-3.2},{"x":-0.055,"y":-0.02,"v":-2.9},{"x":-0.05,"y":-0.02,"v":-2.7},{"x":-0.045,"y":-0.02,"v":-2.6},{"x":-0.04,"y":-0.02,"v":-2.5},{"x":-0.035,"y":-0.02,"v":-2.4},{"x":-0.03,"y":-0.02,"v":-2.2},{"x":-0.025,"y":-0.02,"v":-2.1},{"x":-0.02,"y":-0.02,"v":-2.2},{"x":-0.015,"y":-0.02,"v":-2.3},{"x":-0.01,"y":-0.02,"v":-2.4},{"x":-0.005,"y":-0.02,"v":-1.7},{"x":0,"y":-0.02,"v":-1.8},{"x":0.005,"y":-0.02,"v":-2},{"x":0.01,"y":-0.02,"v":-2},{"x":0.015,"y":-0.02,"v":-1.9},{"x":0.02,"y":-0.02,"v":-1.3},{"x":0.025,"y":-0.02,"v":-1.4},{"x":0.03,"y":-0.02,"v":-1.7},{"x":0.035,"y":-0.02,"v":-2.1},{"x":0.04,"y":-0.02,"v":-2.3},{"x":0.045,"y":-0.02,"v":-2.5},{"x":0.05,"y":-0.02,"v":-2.8},{"x":0.055,"y":-0.02,"v":-3.6},{"x":0.06,"y":-0.02,"v":-4.8},
{"x":-0.07,"y":-0.025,"v":-4.7},{"x":-0.065,"y":-0.025,"v":-3.9},{"x":-0.06,"y":-0.025,"v":-3.3},{"x":-0.055,"y":-0.025,"v":-3},{"x":-0.05,"y":-0.025,"v":-2.8},{"x":-0.045,"y":-0.025,"v":-2.6},{"x":-0.04,"y":-0.025,"v":-2.5},{"x":-0.035,"y":-0.025,"v":-2.4},{"x":-0.03,"y":-0.025,"v":-2.3},{"x":-0.025,"y":-0.025,"v":-2.2},{"x":-0.02,"y":-0.025,"v":-2.2},{"x":-0.015,"y":-0.025,"v":-2.3},{"x":-0.01,"y":-0.025,"v":-2.4},{"x":-0.005,"y":-0.025,"v":-2.3},{"x":0,"y":-0.025,"v":-2.2},{"x":0.005,"y":-0.025,"v":-2.2},{"x":0.01,"y":-0.025,"v":-2.2},{"x":0.015,"y":-0.025,"v":-2.1},{"x":0.02,"y":-0.025,"v":-2},{"x":0.025,"y":-0.025,"v":-2},{"x":0.03,"y":-0.025,"v":-2.1},{"x":0.035,"y":-0.025,"v":-2.2},{"x":0.04,"y":-0.025,"v":-2.4},{"x":0.045,"y":-0.025,"v":-2.6},{"x":0.05,"y":-0.025,"v":-3.1},{"x":0.055,"y":-0.025,"v":-4.2},
{"x":-0.07,"y":-0.03,"v":-4.9},{"x":-0.065,"y":-0.03,"v":-4.2},{"x":-0.06,"y":-0.03,"v":-3.4},{"x":-0.055,"y":-0.03,"v":-3},{"x":-0.05,"y":-0.03,"v":-2.8},{"x":-0.045,"y":-0.03,"v":-2.6},{"x":-0.04,"y":-0.03,"v":-2.5},{"x":-0.035,"y":-0.03,"v":-2.4},{"x":-0.03,"y":-0.03,"v":-2.3},{"x":-0.025,"y":-0.03,"v":-2.2},{"x":-0.02,"y":-0.03,"v":-2.2},{"x":-0.015,"y":-0.03,"v":-2.1},{"x":-0.01,"y":-0.03,"v":-2},{"x":-0.005,"y":-0.03,"v":-2.1},{"x":0,"y":-0.03,"v":-2.1},{"x":0.005,"y":-0.03,"v":-2.1},{"x":0.01,"y":-0.03,"v":-2.1},{"x":0.015,"y":-0.03,"v":-2.1},{"x":0.02,"y":-0.03,"v":-2.1},{"x":0.025,"y":-0.03,"v":-2.2},{"x":0.03,"y":-0.03,"v":-2.3},{"x":0.035,"y":-0.03,"v":-2.4},{"x":0.04,"y":-0.03,"v":-2.6},{"x":0.045,"y":-0.03,"v":-3},{"x":0.05,"y":-0.03,"v":-4},
{"x":-0.065,"y":-0.035,"v":-4.6},{"x":-0.06,"y":-0.035,"v":-3.7},{"x":-0.055,"y":-0.035,"v":-3.1},{"x":-0.05,"y":-0.035,"v":-2.8},{"x":-0.045,"y":-0.035,"v":-2.6},{"x":-0.04,"y":-0.035,"v":-2.5},{"x":-0.035,"y":-0.035,"v":-2.4},{"x":-0.03,"y":-0.035,"v":-2.3},{"x":-0.025,"y":-0.035,"v":-2.2},{"x":-0.02,"y":-0.035,"v":-2.2},{"x":-0.015,"y":-0.035,"v":-2.1},{"x":-0.01,"y":-0.035,"v":-2},{"x":-0.005,"y":-0.035,"v":-1.8},{"x":0,"y":-0.035,"v":-2},{"x":0.005,"y":-0.035,"v":-2.1},{"x":0.01,"y":-0.035,"v":-2.1},{"x":0.015,"y":-0.035,"v":-2.2},{"x":0.02,"y":-0.035,"v":-2.2},{"x":0.025,"y":-0.035,"v":-2.3},{"x":0.03,"y":-0.035,"v":-2.4},{"x":0.035,"y":-0.035,"v":-2.6},{"x":0.04,"y":-0.035,"v":-2.8},{"x":0.045,"y":-0.035,"v":-3.4},{"x":0.05,"y":-0.035,"v":-4.6},
{"x":-0.06,"y":-0.04,"v":-4.3},{"x":-0.055,"y":-0.04,"v":-3.5},{"x":-0.05,"y":-0.04,"v":-3},{"x":-0.045,"y":-0.04,"v":-2.7},{"x":-0.04,"y":-0.04,"v":-2.6},{"x":-0.035,"y":-0.04,"v":-2.5},{"x":-0.03,"y":-0.04,"v":-2.4},{"x":-0.025,"y":-0.04,"v":-2.3},{"x":-0.02,"y":-0.04,"v":-2.3},{"x":-0.015,"y":-0.04,"v":-2.2},{"x":-0.01,"y":-0.04,"v":-2.2},{"x":-0.005,"y":-0.04,"v":-2.2},{"x":0,"y":-0.04,"v":-2.2},{"x":0.005,"y":-0.04,"v":-2.2},{"x":0.01,"y":-0.04,"v":-2.3},{"x":0.015,"y":-0.04,"v":-2.4},{"x":0.02,"y":-0.04,"v":-2.4},{"x":0.025,"y":-0.04,"v":-2.5},{"x":0.03,"y":-0.04,"v":-2.6},{"x":0.035,"y":-0.04,"v":-2.9},{"x":0.04,"y":-0.04,"v":-3.4},{"x":0.045,"y":-0.04,"v":-4.5},
{"x":-0.06,"y":-0.045,"v":-4.8},{"x":-0.055,"y":-0.045,"v":-3.9},{"x":-0.05,"y":-0.045,"v":-3.2},{"x":-0.045,"y":-0.045,"v":-2.9},{"x":-0.04,"y":-0.045,"v":-2.7},{"x":-0.035,"y":-0.045,"v":-2.6},{"x":-0.03,"y":-0.045,"v":-2.6},{"x":-0.025,"y":-0.045,"v":-2.5},{"x":-0.02,"y":-0.045,"v":-2.5},{"x":-0.015,"y":-0.045,"v":-2.4},{"x":-0.01,"y":-0.045,"v":-2.4},{"x":-0.005,"y":-0.045,"v":-2.4},{"x":0,"y":-0.045,"v":-2.4},{"x":0.005,"y":-0.045,"v":-2.4},{"x":0.01,"y":-0.045,"v":-2.5},{"x":0.015,"y":-0.045,"v":-2.5},{"x":0.02,"y":-0.045,"v":-2.6},{"x":0.025,"y":-0.045,"v":-2.7},{"x":0.03,"y":-0.045,"v":-2.9},{"x":0.035,"y":-0.045,"v":-3.3},{"x":0.04,"y":-0.045,"v":-4.4},
{"x":-0.055,"y":-0.05,"v":-4.5},{"x":-0.05,"y":-0.05,"v":-3.5},{"x":-0.045,"y":-0.05,"v":-3},{"x":-0.04,"y":-0.05,"v":-2.9},{"x":-0.035,"y":-0.05,"v":-2.8},{"x":-0.03,"y":-0.05,"v":-2.8},{"x":-0.025,"y":-0.05,"v":-2.7},{"x":-0.02,"y":-0.05,"v":-2.7},{"x":-0.015,"y":-0.05,"v":-2.7},{"x":-0.01,"y":-0.05,"v":-2.6},{"x":-0.005,"y":-0.05,"v":-2.6},{"x":0,"y":-0.05,"v":-2.6},{"x":0.005,"y":-0.05,"v":-2.7},{"x":0.01,"y":-0.05,"v":-2.7},{"x":0.015,"y":-0.05,"v":-2.8},{"x":0.02,"y":-0.05,"v":-2.9},{"x":0.025,"y":-0.05,"v":-3.1},{"x":0.03,"y":-0.05,"v":-3.7},{"x":0.035,"y":-0.05,"v":-4.7},
{"x":-0.05,"y":-0.055,"v":-4.4},{"x":-0.045,"y":-0.055,"v":-3.6},{"x":-0.04,"y":-0.055,"v":-3.1},{"x":-0.035,"y":-0.055,"v":-3},{"x":-0.03,"y":-0.055,"v":-2.9},{"x":-0.025,"y":-0.055,"v":-2.9},{"x":-0.02,"y":-0.055,"v":-2.9},{"x":-0.015,"y":-0.055,"v":-2.8},{"x":-0.01,"y":-0.055,"v":-2.8},{"x":-0.005,"y":-0.055,"v":-2.8},{"x":0,"y":-0.055,"v":-2.9},{"x":0.005,"y":-0.055,"v":-3},{"x":0.01,"y":-0.055,"v":-3.1},{"x":0.015,"y":-0.055,"v":-3.3},{"x":0.02,"y":-0.055,"v":-3.8},{"x":0.025,"y":-0.055,"v":-4.6},
{"x":-0.045,"y":-0.06,"v":-4.7},{"x":-0.04,"y":-0.06,"v":-4},{"x":-0.035,"y":-0.06,"v":-3.4},{"x":-0.03,"y":-0.06,"v":-3.2},{"x":-0.025,"y":-0.06,"v":-3.1},{"x":-0.02,"y":-0.06,"v":-3.1},{"x":-0.015,"y":-0.06,"v":-3.1},{"x":-0.01,"y":-0.06,"v":-3.1},{"x":-0.005,"y":-0.06,"v":-3.2},{"x":0,"y":-0.06,"v":-3.5},{"x":0.005,"y":-0.06,"v":-4},{"x":0.01,"y":-0.06,"v":-4.7},
{"x":-0.03,"y":-0.065,"v":-4.8},{"x":-0.025,"y":-0.065,"v":-4.3},{"x":-0.02,"y":-0.065,"v":-4},{"x":-0.015,"y":-0.065,"v":-3.9},{"x":-0.01,"y":-0.065,"v":-3.9},{"x":-0.005,"y":-0.065,"v":-4.2},{"x":0,"y":-0.065,"v":-4.7}
]},
"layer":[
{"data":{"name":"dots"},"mark":{"type":"square","size":1,"color":"#8a8a8a","opacity":1},
"encoding":{
"x":{"field":"x","type":"quantitative","scale":{"domain":[-0.15,0.15],"nice":false},
"axis":{"orient":"bottom","title":"x [ kpc ]","titleFont":"Liberation Serif","titleFontSize":11,"titleFontWeight":"normal","titleColor":"#222222","titlePadding":3,"domainColor":"#c8c8c8","tickColor":"#c8c8c8","grid":false,"labelFont":"Liberation Sans","labelFontSize":11,"labelColor":"#222222","labelOverlap":false,"labelFlush":false,"labelPadding":12,"values":[-0.15,-0.14,-0.13,-0.12,-0.11,-0.1,-0.09,-0.08,-0.07,-0.06,-0.05,-0.04,-0.03,-0.02,-0.01,0,0.01,0.02,0.03,0.04,0.05,0.06,0.07,0.08,0.09,0.1,0.11,0.12,0.13,0.14,0.15],"labelExpr":"abs(round(datum.value*100))%5==0?(abs(datum.value)<0.001?'-0.00':format(datum.value,'.2f')):''","tickSize":{"condition":{"test":"abs(round(datum.value*100))%5==0","value":-7},"value":-3.5}}},
"y":{"field":"y","type":"quantitative","scale":{"domain":[-0.15,0.15],"nice":false},
"axis":{"orient":"left","title":"y [ kpc ]","titleFont":"Liberation Serif","titleFontSize":11,"titleFontWeight":"normal","titleColor":"#222222","titleX":-37,"domainColor":"#c8c8c8","tickColor":"#c8c8c8","grid":false,"labelFont":"Liberation Sans","labelFontSize":11,"labelColor":"#222222","labelOverlap":false,"labelFlush":false,"labelPadding":12,"values":[-0.15,-0.14,-0.13,-0.12,-0.11,-0.1,-0.09,-0.08,-0.07,-0.06,-0.05,-0.04,-0.03,-0.02,-0.01,0,0.01,0.02,0.03,0.04,0.05,0.06,0.07,0.08,0.09,0.1,0.11,0.12,0.13,0.14,0.15],"labelExpr":"abs(round(datum.value*100))%5==0?(abs(datum.value)<0.001?'-0.00':format(datum.value,'.2f')):''","tickSize":{"condition":{"test":"abs(round(datum.value*100))%5==0","value":-7},"value":-3.5}}}
}},
{"data":{"name":"coarse"},"mark":{"type":"square","size":30,"opacity":1},
"encoding":{"x":{"field":"x","type":"quantitative","axis":null},"y":{"field":"y","type":"quantitative","axis":null},
"color":{"field":"v","type":"quantitative","scale":{"domain":[-5.22,-4.7,-4.19,-3.62,-2.74,-1.78,-1.08,-0.73,-0.12,1.28,2.79],"range":["#000000","#000014","#00004e","#004a6c","#009e6c","#069406","#a0662a","#c80000","#d84000","#e89000","#ffff00"]},
"legend":{"orient":"none","legendX":0,"legendY":351,"direction":"horizontal","gradientLength":305,"gradientThickness":22,"values":[-4,-2,0,2],"format":"d","title":"log Σ [g cm⁻²]","titleOrient":"bottom","titleAnchor":"middle","titleAlign":"center","titlePadding":2,"labelOffset":7,"gradientStrokeColor":"#c8c8c8","gradientStrokeWidth":0.5}}}},
{"data":{"name":"coarse"},"mark":{"type":"circle","size":110,"opacity":0.35},
"encoding":{"x":{"field":"x","type":"quantitative","axis":null},"y":{"field":"y","type":"quantitative","axis":null},"color":{"field":"v","type":"quantitative"}}},
{"data":{"name":"fine"},"mark":{"type":"square","size":7.5,"opacity":1},
"encoding":{"x":{"field":"x","type":"quantitative","axis":null},"y":{"field":"y","type":"quantitative","axis":null},"color":{"field":"v","type":"quantitative"}}},
{"data":{"name":"arrows"},"mark":{"type":"rule","color":"#e4e4e4","strokeWidth":0.75},
"encoding":{
"x":{"field":"x","type":"quantitative","axis":{"orient":"top","title":null,"labels":false,"domain":false,"grid":false,"tickColor":"#c8c8c8","values":[-0.15,-0.14,-0.13,-0.12,-0.11,-0.1,-0.09,-0.08,-0.07,-0.06,-0.05,-0.04,-0.03,-0.02,-0.01,0,0.01,0.02,0.03,0.04,0.05,0.06,0.07,0.08,0.09,0.1,0.11,0.12,0.13,0.14,0.15],"tickSize":{"condition":{"test":"abs(round(datum.value*100))%5==0","value":-7},"value":-3.5}}},
"y":{"field":"y","type":"quantitative","axis":{"orient":"right","title":null,"labels":false,"domain":false,"grid":false,"tickColor":"#c8c8c8","values":[-0.15,-0.14,-0.13,-0.12,-0.11,-0.1,-0.09,-0.08,-0.07,-0.06,-0.05,-0.04,-0.03,-0.02,-0.01,0,0.01,0.02,0.03,0.04,0.05,0.06,0.07,0.08,0.09,0.1,0.11,0.12,0.13,0.14,0.15],"tickSize":{"condition":{"test":"abs(round(datum.value*100))%5==0","value":-7},"value":-3.5}}},
"x2":{"field":"x2"},"y2":{"field":"y2"}}},
{"data":{"name":"arrows"},"mark":{"type":"point","shape":"M-0.5,1L0,0L0.5,1","filled":false,"size":36,"color":"#e4e4e4","strokeWidth":0.75,"opacity":1},
"encoding":{"x":{"field":"x2","type":"quantitative","axis":null},"y":{"field":"y2","type":"quantitative","axis":null},"angle":{"field":"a","type":"quantitative","scale":null}}}
],
"resolve":{"axis":{"x":"independent","y":"independent"}}
}
